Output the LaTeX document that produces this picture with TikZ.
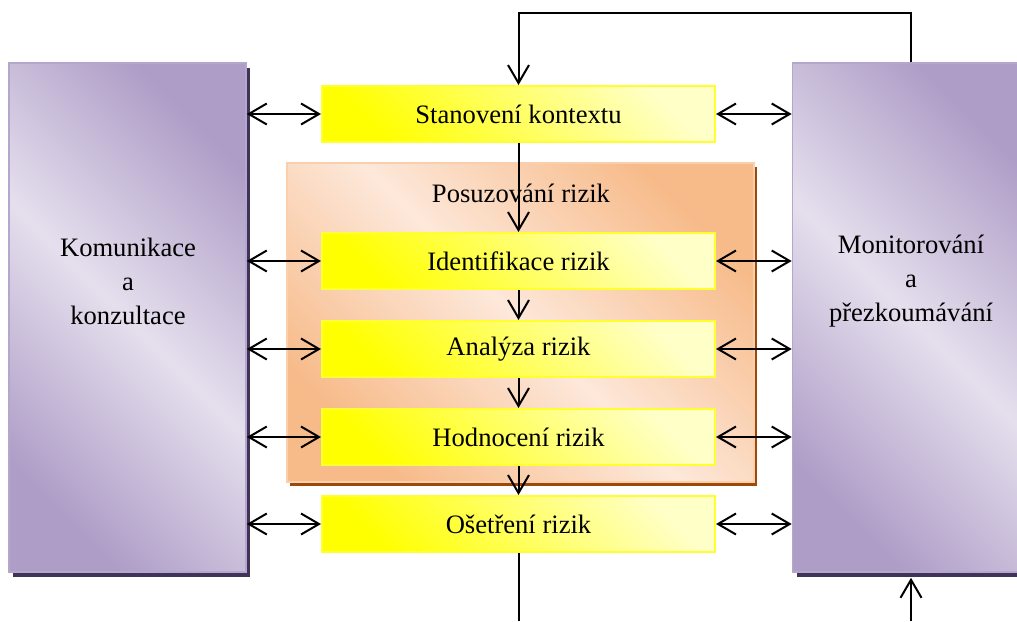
\documentclass[tikz,border=0pt]{standalone}
\usepackage{fontspec}
\setmainfont{Liberation Serif}
\newfontfamily\diagserif{Liberation Serif}
\usetikzlibrary{arrows.meta,shadows}
\definecolor{purpdark}{HTML}{AE9DC7}
\definecolor{purplight}{HTML}{E5DFED}
\definecolor{purpedge}{HTML}{B4A6CD}
\definecolor{purpshad}{HTML}{3F3358}
\definecolor{orgdark}{HTML}{F7BB8A}
\definecolor{orglight}{HTML}{FDE8DA}
\definecolor{orgshad}{HTML}{9C4A0A}
\definecolor{yelsat}{HTML}{FFFF00}
\definecolor{yellight}{HTML}{FFFFC8}
\definecolor{yeledge}{HTML}{FFFF30}
\begin{document}
\begin{tikzpicture}[x=0.5pt,y=-0.5pt,
  >={Straight Barb[length=9pt,width=10.5pt,line width=1pt]},
  every node/.style={font=\diagserif\fontsize{13.3}{17}\selectfont, inner sep=0pt},
  sidebox/.style={rectangle, draw=purpedge, line width=0.8pt,
    left color=purpdark, right color=purpdark, middle color=purplight,
    shading angle=-45, minimum width=118.5pt, minimum height=254.5pt,
    general shadow={fill=purpshad, shadow xshift=2pt, shadow yshift=-2.5pt}},
  groupbox/.style={rectangle, draw=orgdark!70!white, line width=0.8pt,
    left color=orgdark, right color=orgdark, middle color=orglight,
    shading angle=-45, minimum width=233.5pt, minimum height=159.5pt,
    general shadow={fill=orgshad, shadow xshift=1.5pt, shadow yshift=-2pt}},
  stepbox/.style={rectangle, draw=yeledge, line width=1pt,
    left color=yelsat, right color=yellight, shading angle=135,
    minimum width=196.5pt, minimum height=28pt},
  txt/.style={align=center},
  conn/.style={line width=1pt, draw=black}
]
\useasboundingbox (0,0) rectangle (1017,621);

% side boxes
\node[sidebox] (l) at (127.5,317.5) {};
\node[sidebox] (r) at (911,317.5) {};
\node[txt] (lt) at (128,281) {Komunikace\\a\\konzultace};
\node[txt] (rt) at (911,281) {Monitorování\\a\\přezkoumávání};

% group box
\node[groupbox] (g) at (520.5,322.5) {};
\node (gt) at (521,193) {Posuzování rizik};

% steps
\node[stepbox] (s) at (518.5,114) {Stanovení kontextu};
\node[stepbox] (i) at (518.5,261) {Identifikace rizik};
\node[stepbox] (a) at (518.5,349) {Analýza rizik};
\node[stepbox] (h) at (518.5,437) {Hodnocení rizik};
\node[stepbox] (o) at (518.5,524) {Ošetření rizik};

% vertical flow
\draw[conn,->] (s.south) -- (i.north);
\draw[conn,->] (i.south) -- (a.north);
\draw[conn,->] (a.south) -- (h.north);
\draw[conn,->] (h.south) -- (o.north);

% feedback loop
\coordinate (top) at (911,13);
\draw[conn,->] (r.north) -- (top) -| (s.north);

% bottom lines
\coordinate (bl) at (518.5,621);
\coordinate (br) at (911,621);
\draw[conn] (o.south) -- (bl);
\draw[conn,->] (br) -- ([yshift=-2.5pt]r.south);

% horizontal double arrows
\foreach \n in {s,i,a,h,o}{
  \draw[conn,<->] (l.east |- \n.west) -- (\n.west);
  \draw[conn,<->] (\n.east) -- (r.west |- \n.east);
}
\end{tikzpicture}
\end{document}
